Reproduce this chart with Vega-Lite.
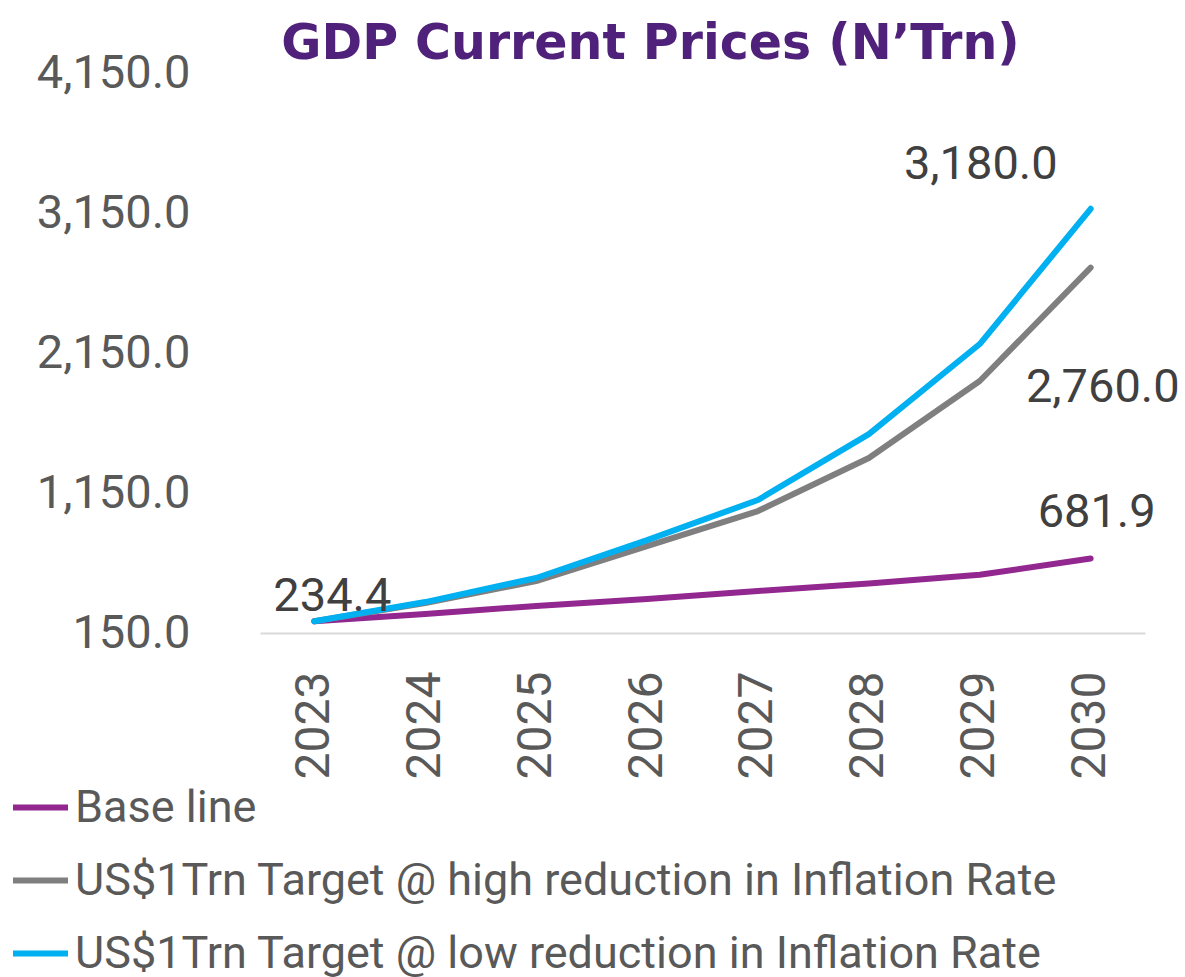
{
  "$schema": "https://vega.github.io/schema/vega-lite/v6.json",
  "width": 885,
  "height": 560,
  "autosize": {"type": "none"},
  "padding": {"left": 260, "top": 73, "right": 40, "bottom": 344},
  "background": "white",
  "config": {"view": {"stroke": null}, "font": "Roboto"},
  "title": {
    "text": "GDP Current Prices (N’Trn)",
    "font": "DejaVu Sans",
    "fontSize": 49,
    "fontWeight": "bold",
    "color": "#50217A",
    "anchor": "middle",
    "dx": -52,
    "offset": -20
  },
  "data": {
    "values": [
      {"year": "2023", "series": "Base line", "value": 234.4},
      {"year": "2024", "series": "Base line", "value": 286},
      {"year": "2025", "series": "Base line", "value": 343},
      {"year": "2026", "series": "Base line", "value": 393},
      {"year": "2027", "series": "Base line", "value": 450},
      {"year": "2028", "series": "Base line", "value": 503},
      {"year": "2029", "series": "Base line", "value": 566},
      {"year": "2030", "series": "Base line", "value": 681.9},
      {"year": "2023", "series": "US$1Trn Target @ high reduction in Inflation Rate", "value": 234.4},
      {"year": "2024", "series": "US$1Trn Target @ high reduction in Inflation Rate", "value": 364},
      {"year": "2025", "series": "US$1Trn Target @ high reduction in Inflation Rate", "value": 521},
      {"year": "2026", "series": "US$1Trn Target @ high reduction in Inflation Rate", "value": 771},
      {"year": "2027", "series": "US$1Trn Target @ high reduction in Inflation Rate", "value": 1021},
      {"year": "2028", "series": "US$1Trn Target @ high reduction in Inflation Rate", "value": 1400},
      {"year": "2029", "series": "US$1Trn Target @ high reduction in Inflation Rate", "value": 1950},
      {"year": "2030", "series": "US$1Trn Target @ high reduction in Inflation Rate", "value": 2760},
      {"year": "2023", "series": "US$1Trn Target @ low reduction in Inflation Rate", "value": 234.4},
      {"year": "2024", "series": "US$1Trn Target @ low reduction in Inflation Rate", "value": 371},
      {"year": "2025", "series": "US$1Trn Target @ low reduction in Inflation Rate", "value": 543},
      {"year": "2026", "series": "US$1Trn Target @ low reduction in Inflation Rate", "value": 814},
      {"year": "2027", "series": "US$1Trn Target @ low reduction in Inflation Rate", "value": 1100},
      {"year": "2028", "series": "US$1Trn Target @ low reduction in Inflation Rate", "value": 1571},
      {"year": "2029", "series": "US$1Trn Target @ low reduction in Inflation Rate", "value": 2214},
      {"year": "2030", "series": "US$1Trn Target @ low reduction in Inflation Rate", "value": 3180}
    ]
  },
  "encoding": {
    "x": {
      "field": "year",
      "type": "ordinal",
      "scale": {"type": "point", "padding": 0.49},
      "axis": {
        "title": null,
        "labelAngle": -90,
        "labelAlign": "right",
        "labelBaseline": "middle",
        "labelFontSize": 48,
        "labelColor": "#595959",
        "labelPadding": 38,
        "ticks": false,
        "domainColor": "#D9D9D9",
        "domainWidth": 2,
        "grid": false
      }
    },
    "y": {
      "field": "value",
      "type": "quantitative",
      "scale": {"domain": [150, 4150], "nice": false, "zero": false},
      "axis": {
        "title": null,
        "values": [150, 1150, 2150, 3150, 4150],
        "format": ",.1f",
        "labelFontSize": 47,
        "labelColor": "#595959",
        "labelPadding": 70,
        "domain": false,
        "ticks": false,
        "grid": false
      }
    }
  },
  "layer": [
    {
      "mark": {"type": "line", "strokeWidth": 6, "strokeCap": "round", "strokeJoin": "round"},
      "encoding": {
        "color": {
          "field": "series",
          "type": "nominal",
          "scale": {
            "domain": ["Base line", "US$1Trn Target @ high reduction in Inflation Rate", "US$1Trn Target @ low reduction in Inflation Rate"],
            "range": ["#92278F", "#7F7F7F", "#00B0F0"]
          },
          "legend": {
            "title": null,
            "orient": "none",
            "legendX": -250,
            "legendY": 704,
            "direction": "vertical",
            "symbolType": "stroke",
            "symbolStrokeWidth": 6,
            "symbolSize": 3025,
            "labelFontSize": 45,
            "labelColor": "#595959",
            "labelOffset": 4,
            "labelLimit": 1200,
            "rowPadding": 19
          }
        }
      }
    },
    {
      "transform": [{"filter": "datum.year == '2023' && datum.series == 'Base line'"}],
      "mark": {"type": "text", "fontSize": 47, "color": "#404040", "align": "center", "baseline": "alphabetic", "dx": 18, "dy": -10},
      "encoding": {"text": {"field": "value", "type": "quantitative", "format": ",.1f"}}
    },
    {
      "transform": [{"filter": "datum.year == '2030' && datum.series == 'Base line'"}],
      "mark": {"type": "text", "fontSize": 47, "color": "#404040", "align": "center", "baseline": "alphabetic", "dx": 6, "dy": -32},
      "encoding": {"text": {"field": "value", "type": "quantitative", "format": ",.1f"}}
    },
    {
      "transform": [{"filter": "datum.year == '2030' && datum.series == 'US$1Trn Target @ low reduction in Inflation Rate'"}],
      "mark": {"type": "text", "fontSize": 47, "color": "#404040", "align": "right", "baseline": "alphabetic", "dx": -33, "dy": -30},
      "encoding": {"text": {"field": "value", "type": "quantitative", "format": ",.1f"}}
    },
    {
      "transform": [{"filter": "datum.year == '2030' && datum.series == 'US$1Trn Target @ high reduction in Inflation Rate'"}],
      "mark": {"type": "text", "fontSize": 47, "color": "#404040", "align": "right", "baseline": "alphabetic", "dx": 89, "dy": 134},
      "encoding": {"text": {"field": "value", "type": "quantitative", "format": ",.1f"}}
    }
  ]
}
